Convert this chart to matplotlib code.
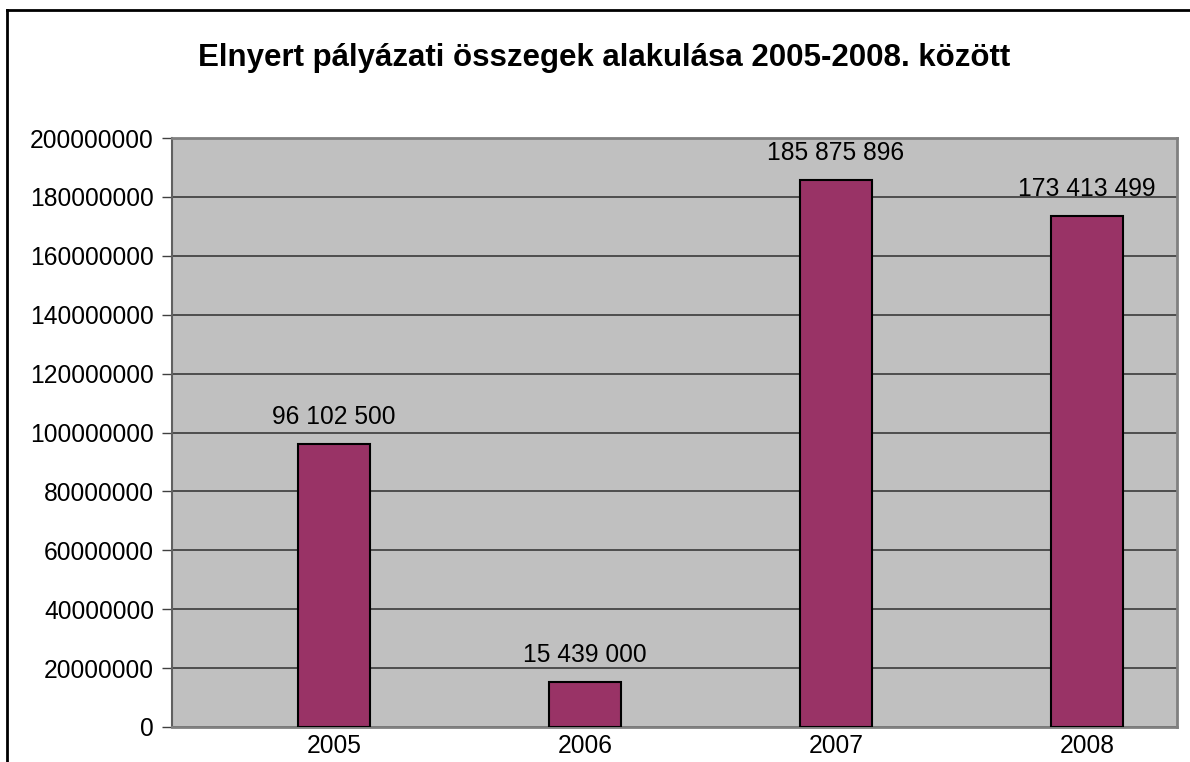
import matplotlib.pyplot as plt
from matplotlib.lines import Line2D

years = ["2005", "2006", "2007", "2008"]
amounts = [96102500, 15439000, 185875896, 173413499]
labels = ["96 102 500", "15 439 000", "185 875 896", "173 413 499"]
yticks = list(range(0, 200000001, 20000000))

plt.rcParams['font.family'] = ['Liberation Sans', 'DejaVu Sans']

fig = plt.figure(figsize=(11.9, 7.62), dpi=100)
W, H = 1190, 762
# plot area in pixel terms
left, right, top, bottom = 172, 1177, 138, 727
ax = fig.add_axes([left / W, 1 - bottom / H, (right - left) / W, (bottom - top) / H])
ax.set_facecolor('#c0c0c0')

x = list(range(len(years)))
ax.bar(x, amounts, width=0.287, color='#993366', edgecolor='black', linewidth=1.5, zorder=3)
for xi, v, t in zip(x, amounts, labels):
    ax.annotate(t, (xi, v), xytext=(0, 15), textcoords='offset pixels',
                ha='center', va='bottom', fontsize=17.7, zorder=4)

ax.set_xlim(-0.645, 3.358)
ax.set_ylim(0, 200000000)
ax.set_yticks(yticks)
ax.set_yticklabels([str(v) for v in yticks], fontsize=17.7)
ax.set_xticks(x)
ax.set_xticklabels(years, fontsize=17.7)
ax.tick_params(axis='x', length=0, pad=5)
ax.tick_params(axis='y', length=7, width=1, color='#404040', pad=6)
ax.grid(axis='y', color='#3a3a3a', linewidth=1.2, zorder=1)
for s in ['top', 'right']:
    ax.spines[s].set_color('#808080')
    ax.spines[s].set_linewidth(2)
ax.spines['left'].set_color('#606060')
ax.spines['left'].set_linewidth(1.5)
ax.spines['bottom'].set_color('#808080')
ax.spines['bottom'].set_linewidth(2)

fig.text(604 / W, 1 - 58 / H, "Elnyert pályázati összegek alakulása 2005-2008. között",
         ha='center', va='center', fontsize=22.5, fontweight='bold')

# outer chart border (top and left only visible)
fig.add_artist(Line2D([7 / W, 1], [1 - 10 / H, 1 - 10 / H], color='black', linewidth=2))
fig.add_artist(Line2D([7 / W, 7 / W], [0, 1 - 10 / H], color='black', linewidth=2))

fig.savefig("out.png", dpi=100)
